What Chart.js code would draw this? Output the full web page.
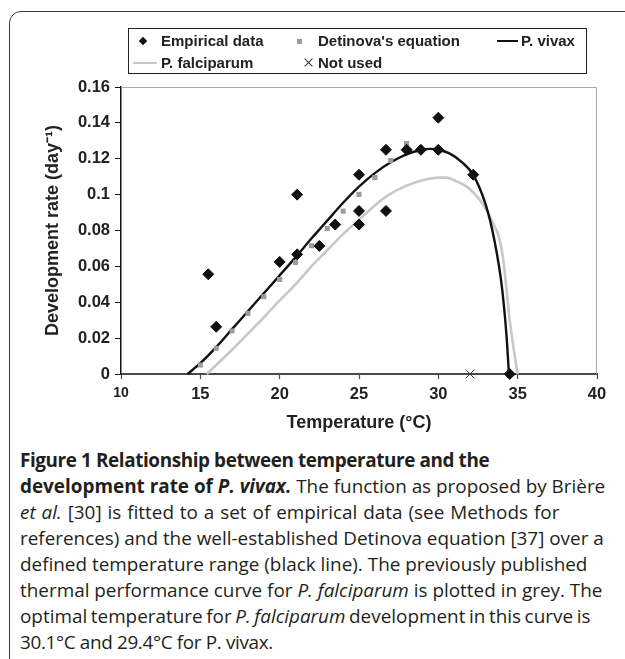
<!DOCTYPE html>
<html>
<head>
<meta charset="utf-8">
<script src="https://cdn.jsdelivr.net/npm/chart.js@4.4.1/dist/chart.umd.min.js"></script>
<style>
  html, body { margin:0; padding:0; background:#fff; width:625px; height:659px; overflow:hidden; }
  body { position:relative; font-family:"Liberation Sans", Arial, sans-serif; color:#222; }
  #frame { position:absolute; left:9px; top:11px; width:720px; height:720px; border:1.5px solid #3a3a3a; border-radius:12px; box-sizing:border-box; }
  #chartWrap { position:absolute; left:0; top:0; width:625px; height:440px; }
  #legendBox { position:absolute; left:128px; top:28px; width:459px; height:46px; border:1px solid #222; box-sizing:border-box; }
  .lg { position:absolute; font-weight:bold; font-size:15px; line-height:18px; white-space:nowrap; color:#222; }
  .mk { position:absolute; }
  #caption { position:absolute; left:20px; top:447px; font-family:"Open Sans", "Noto Sans", sans-serif; font-size:18.9px; line-height:26px; color:#231f20; white-space:nowrap; }
  #caption b { font-weight:700; }
  #caption .l1 { letter-spacing:-0.4px; }
  #caption .l3 { word-spacing:1px; }
  #caption .l7 { word-spacing:-1.3px; }
  #caption .l8 { letter-spacing:-0.35px; }
</style>
</head>
<body>
<div id="frame"></div>
<div id="chartWrap"><canvas id="c" width="625" height="440"></canvas></div>

<div id="legendBox"></div>
<div class="mk" style="left:140px;top:38px;width:6px;height:6px;background:#111;transform:rotate(45deg);"></div>
<div class="lg" style="left:161px;top:32px;">Empirical data</div>
<div class="mk" style="left:297px;top:39px;width:5px;height:5px;background:#9a9a9a;"></div>
<div class="lg" style="left:318px;top:32px;">Detinova's equation</div>
<div class="mk" style="left:497px;top:40px;width:21px;height:2px;background:#111;"></div>
<div class="lg" style="left:521px;top:32px;">P. vivax</div>
<div class="mk" style="left:133px;top:62px;width:24px;height:2px;background:#c8c8c8;"></div>
<div class="lg" style="left:161px;top:54px;">P. falciparum</div>
<div class="mk" style="left:303px;top:62px;width:11px;height:1px;background:#333;transform:rotate(45deg);"></div>
<div class="mk" style="left:303px;top:62px;width:11px;height:1px;background:#333;transform:rotate(-45deg);"></div>
<div class="lg" style="left:318px;top:54px;">Not used</div>

<div id="caption">
<b class="l1">Figure 1 Relationship between temperature and the</b><br>
<b>development rate of <i>P. vivax.</i></b> The function as proposed by Brière<br>
<span class="l3"><i>et al.</i> [30] is fitted to a set of empirical data (see Methods for</span><br>
references) and the well-established Detinova equation [37] over a<br>
defined temperature range (black line). The previously published<br>
thermal performance curve for <i>P. falciparum</i> is plotted in grey. The<br>
<span class="l7">optimal temperature for <i>P. falciparum</i> development in this curve is</span><br>
<span class="l8">30.1°C and 29.4°C for P. vivax.</span>
</div>

<script>
// ---- Data ----
const empiricalT    = [15.5, 16, 20, 21.1, 21.1, 22.5, 23.5, 25, 25, 25, 26.7, 26.7, 28, 28.9, 30, 30, 32.2, 34.5];
const empiricalRate = [0.0556, 0.0263, 0.0625, 0.0667, 0.1, 0.0714, 0.0833, 0.0833, 0.0909, 0.1111, 0.0909, 0.125, 0.125, 0.125, 0.125, 0.1429, 0.1111, 0];

const detinovaT    = [15, 16, 17, 18, 19, 20, 21, 22, 23, 24, 25, 26, 27, 28];
const detinovaRate = [0.005, 0.0143, 0.024, 0.0338, 0.0431, 0.0527, 0.0622, 0.0715, 0.0811, 0.0908, 0.1001, 0.1095, 0.119, 0.1285];

const vivaxT    = [14.2, 15, 16, 17, 18, 19, 20, 21, 22, 23, 24, 25, 26, 27, 28, 29, 29.5, 30, 30.7, 31.5, 32.2, 33, 33.5, 34, 34.3, 34.45];
const vivaxRate = [0, 0.006, 0.015, 0.025, 0.035, 0.045, 0.055, 0.065, 0.0755, 0.0855, 0.0955, 0.1045, 0.112, 0.118, 0.1225, 0.125, 0.1255, 0.125, 0.123, 0.118, 0.111, 0.094, 0.076, 0.049, 0.021, 0];

const falciparumT    = [15.4, 16, 17, 18, 19, 20, 21, 22, 23, 24, 25, 26, 27, 28, 29, 30, 30.5, 31, 32, 33, 33.5, 33.8, 34.1, 34.5, 34.8, 35.0];
const falciparumRate = [0, 0.005, 0.0135, 0.0225, 0.0315, 0.041, 0.050, 0.060, 0.069, 0.078, 0.086, 0.094, 0.1005, 0.105, 0.108, 0.1095, 0.1095, 0.108, 0.103, 0.092, 0.083, 0.077, 0.063, 0.030, 0.011, 0];

const notUsedT    = [32];
const notUsedRate = [0];

const xTickValues = [10, 15, 20, 25, 30, 35, 40];
const yTickValues = [0, 0.02, 0.04, 0.06, 0.08, 0.1, 0.12, 0.14, 0.16];
const yTickLabels = ['0', '0.02', '0.04', '0.06', '0.08', '0.1', '0.12', '0.14', '0.16'];

const xTitle = 'Temperature (°C)';
const yTitle = 'Development rate (day\u207B\u00B9)';

// ---- Build chart ----
const pts = (xs, ys) => xs.map((x, i) => ({x: x, y: ys[i]}));
const FONT = '"Liberation Sans", Arial, sans-serif';

const plotBox = {
  id: 'plotBox',
  beforeDatasetsDraw(chart) {
    const a = chart.chartArea, c = chart.ctx;
    c.save();
    c.strokeStyle = '#a8a8a8';
    c.lineWidth = 1;
    c.beginPath();
    c.moveTo(a.left, a.top + 0.5);
    c.lineTo(a.right - 0.5, a.top + 0.5);
    c.lineTo(a.right - 0.5, a.bottom);
    c.stroke();
    c.restore();
  }
};

new Chart(document.getElementById('c'), {
  type: 'scatter',
  data: {
    datasets: [
      { label: 'Empirical data', data: pts(empiricalT, empiricalRate), pointStyle: 'rectRot', pointRadius: 5.5,
        backgroundColor: '#111', borderColor: '#111', borderWidth: 1, order: 0, clip: false },
      { label: 'Not used', data: pts(notUsedT, notUsedRate), pointStyle: 'crossRot', pointRadius: 6,
        borderColor: '#333', borderWidth: 1, order: 1, clip: false },
      { label: "Detinova's equation", data: pts(detinovaT, detinovaRate), pointStyle: 'rect', pointRadius: 3.6,
        backgroundColor: '#9c9c9c', borderColor: '#9c9c9c', borderWidth: 0, order: 2, clip: false },
      { label: 'P. vivax', data: pts(vivaxT, vivaxRate), showLine: true, pointRadius: 0, borderColor: '#111',
        borderWidth: 2.4, cubicInterpolationMode: 'monotone', order: 3, clip: false },
      { label: 'P. falciparum', data: pts(falciparumT, falciparumRate), showLine: true, pointRadius: 0, borderColor: '#c8c8c8',
        borderWidth: 2.6, cubicInterpolationMode: 'monotone', order: 4, clip: false }
    ]
  },
  options: {
    responsive: false,
    animation: false,
    events: [],
    layout: { padding: { left: 42, top: 87, right: 28, bottom: 0 } },
    plugins: { legend: { display: false }, tooltip: { enabled: false } },
    scales: {
      x: {
        type: 'linear', min: 10, max: 40,
        afterBuildTicks: s => { s.ticks = xTickValues.map(v => ({ value: v })); },
        afterFit: s => { s.height = 66; },
        border: { display: true, color: '#4a4a4a', width: 2 },
        grid: { display: true, drawOnChartArea: false, drawTicks: true, tickLength: 5, tickColor: '#4a4a4a', tickWidth: 1.2 },
        ticks: {
          color: '#222', padding: 6, maxRotation: 0,
          font: ctx => ({ family: FONT, weight: 'bold', size: ctx.index === 0 ? 14 : 16.5 }),
          callback: v => String(v)
        },
        title: { display: true, text: xTitle, color: '#222', font: { family: FONT, weight: 'bold', size: 18 }, padding: { top: 0, bottom: 6 } }
      },
      y: {
        type: 'linear', min: 0, max: 0.16,
        afterBuildTicks: s => { s.ticks = yTickValues.map(v => ({ value: v })); },
        afterFit: s => { s.width = 79; },
        border: { display: true, color: '#111', width: 1.5 },
        grid: { display: true, drawOnChartArea: false, drawTicks: true, tickLength: 6, tickColor: '#111', tickWidth: 1 },
        ticks: {
          color: '#222', padding: 5,
          font: { family: FONT, weight: 'bold', size: 16.5 },
          callback: (v, i) => yTickLabels[i]
        },
        title: { display: true, text: yTitle, color: '#222', font: { family: FONT, weight: 'bold', size: 18 }, padding: { top: 0, bottom: 0 } }
      }
    }
  },
  plugins: [plotBox]
});
</script>
</body>
</html>
